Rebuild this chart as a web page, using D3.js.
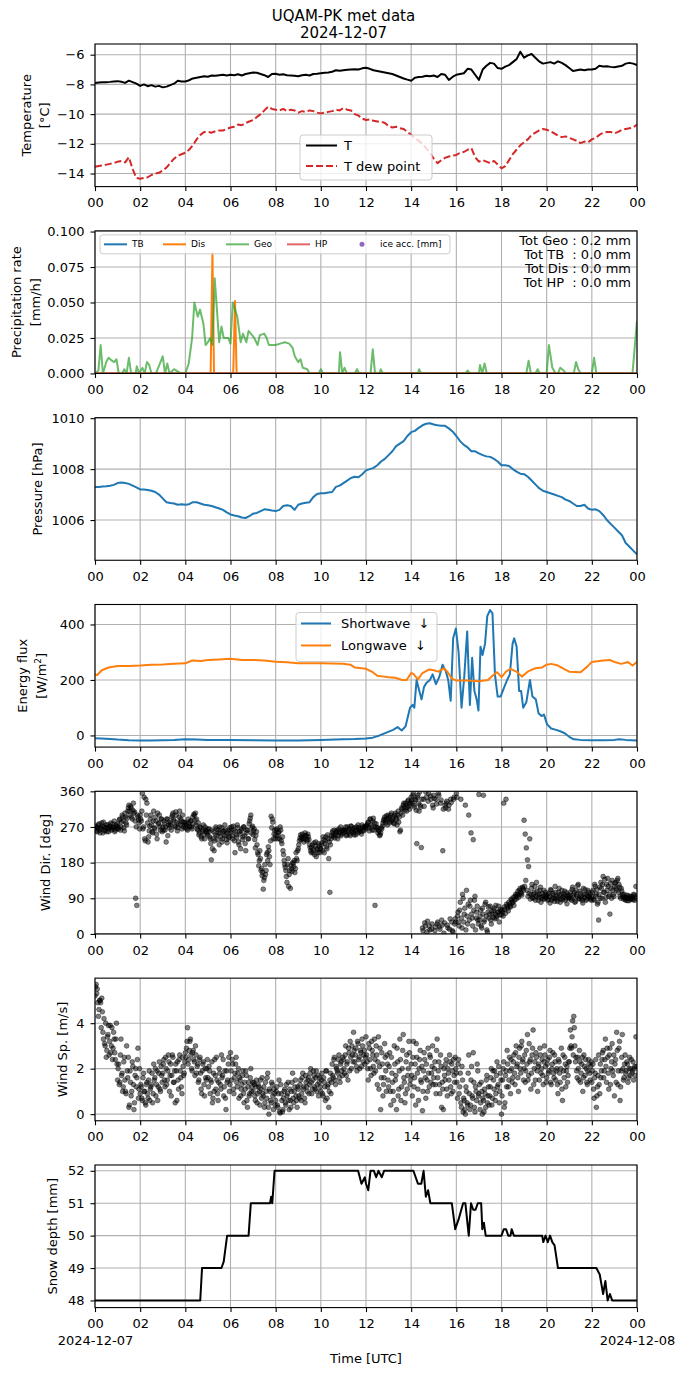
<!DOCTYPE html>
<html>
<head>
<meta charset="utf-8">
<script src="https://cdn.jsdelivr.net/npm/d3@7"></script>
<style>
body { margin: 0; background: #fff; }
text { font-family: "DejaVu Sans", sans-serif; }
</style>
</head>
<body>
<svg id="chart"></svg>
<script>
// ---- data (hours UTC on 2024-12-07) ----

// temperature and dew point, every 10 min from 00 to 24
var tempT = [
    -7.9,-7.88,-7.86,-7.85,-7.83,-7.8, -7.78,-7.82,-7.9,-7.75,-7.85,-7.95,
    -8.1,-8.0,-8.12,-8.05,-8.15,-8.1, -8.2,-8.15,-8.05,-7.95,-7.75,-7.8,
    -7.8,-7.72,-7.6,-7.55,-7.5,-7.45, -7.48,-7.4,-7.42,-7.38,-7.35,-7.4,
    -7.35,-7.38,-7.32,-7.4,-7.3,-7.25, -7.2,-7.22,-7.3,-7.38,-7.5,-7.3,
    -7.28,-7.35,-7.32,-7.38,-7.4,-7.42, -7.45,-7.38,-7.35,-7.4,-7.3,-7.28,
    -7.25,-7.22,-7.2,-7.15,-7.05,-7.08, -7.05,-7.02,-7.0,-6.98,-7.0,-6.92,
    -6.88,-6.95,-7.05,-7.1,-7.15,-7.2, -7.25,-7.3,-7.4,-7.5,-7.6,-7.68,
    -7.75,-7.55,-7.5,-7.48,-7.42,-7.45, -7.4,-7.5,-7.3,-7.35,-7.7,-7.5,
    -7.35,-7.3,-7.25,-6.95,-7.0,-7.35, -7.7,-7.0,-6.75,-6.55,-6.6,-6.9,
    -6.95,-6.8,-6.7,-6.5,-6.3,-5.8, -6.2,-6.05,-5.95,-6.2,-6.45,-6.6,
    -6.55,-6.5,-6.6,-6.45,-6.55,-6.7, -6.9,-7.1,-7.05,-7.0,-7.05,-7.0,
    -7.0,-6.95,-6.75,-6.8,-6.78,-6.82, -6.85,-6.8,-6.75,-6.6,-6.55,-6.6,
    -6.7
];
var tempDew = [
    -13.55,-13.5,-13.45,-13.4,-13.35,-13.3, -13.2,-13.15,-13.25,-12.9,-13.7,-14.3,
    -14.35,-14.3,-14.25,-14.1,-14.0,-13.95, -13.8,-13.6,-13.3,-13.0,-12.8,-12.7,
    -12.6,-12.4,-12.1,-11.7,-11.4,-11.2, -11.2,-11.25,-11.15,-11.1,-11.1,-11.0,
    -10.9,-10.85,-10.7,-10.75,-10.6,-10.5, -10.4,-10.2,-10.0,-9.75,-9.5,-9.65,
    -9.7,-9.75,-9.65,-9.8,-9.7,-9.75, -9.9,-9.8,-9.85,-9.75,-9.8,-9.9,
    -9.95,-9.9,-9.85,-9.8,-9.7,-9.75, -9.6,-9.7,-9.75,-10.0,-10.1,-10.3,
    -10.4,-10.35,-10.45,-10.5,-10.5,-10.6, -10.8,-10.9,-10.85,-10.95,-11.0,-11.2,
    -11.4,-11.6,-11.8,-12.0,-12.3,-12.6, -13.0,-13.3,-13.1,-12.95,-12.85,-12.8,
    -12.75,-12.6,-12.55,-12.4,-12.3,-12.9, -13.2,-13.1,-13.2,-13.3,-13.15,-13.4,
    -13.65,-13.5,-13.1,-12.7,-12.4,-12.1, -11.9,-11.7,-11.4,-11.25,-11.1,-11.0,
    -11.05,-11.15,-11.3,-11.45,-11.55,-11.5, -11.6,-11.7,-11.8,-11.95,-11.85,-11.9,
    -11.7,-11.6,-11.4,-11.25,-11.2,-11.2, -11.3,-11.2,-11.05,-11.0,-10.95,-10.9,
    -10.7
];

// precipitation rate [mm/h]
var geoTime = [0,0.15,0.25,0.35,0.5,0.6,0.75,0.85,0.95,1.05,1.2,1.3,1.4,1.5,1.6,1.8,1.85,1.95,2.1,2.2,
    2.3,2.4,2.5,2.7,3.0,3.1,3.2,3.3,3.5,3.6,3.8,4.0,4.15,4.3,4.4,4.55,4.65,4.8,4.9,5.0,
    5.1,5.2,5.3,5.4,5.5,5.6,5.7,5.9,6.0,6.1,6.3,6.45,6.55,6.7,6.8,6.9,7.05,7.2,7.3,7.5,
    7.6,7.7,7.85,8.0,8.2,8.4,8.6,8.75,8.85,9.0,9.1,9.2,9.4,9.5,9.9,10.0,10.1,10.8,10.85,10.95,
    11.05,11.15,11.5,11.6,11.7,12.2,12.3,12.4,12.6,12.65,12.75,14.3,14.35,14.45,16.4,16.5,16.6,17.0,17.05,17.15,
    17.25,17.35,19.1,19.2,19.3,19.5,19.6,19.7,20.0,20.1,20.25,20.4,20.5,20.6,20.75,20.85,21.2,21.3,21.4,21.5,
    22.0,22.1,22.2,23.8,24];
var geoRate = [0,0.002,0.02,0,0.008,0.011,0.009,0.008,0.01,0,0,0.003,0,0.011,0,0,0.005,0,0.004,0,
    0.008,0.006,0,0,0.012,0,0.007,0,0.003,0.002,0,0,0.007,0.025,0.05,0.04,0.045,0.035,0.02,0.022,
    0.025,0.02,0.067,0.045,0.022,0.033,0.025,0.025,0.021,0.05,0.04,0.022,0.028,0.022,0.03,0.028,0.025,0.02,0.027,0.028,
    0.025,0.02,0.02,0.02,0.021,0.022,0.021,0.018,0.012,0.008,0.01,0.004,0.003,0,0,0.003,0,0,0.015,0,
    0.004,0,0,0.003,0,0,0.017,0,0,0.003,0,0,0.003,0,0,0.002,0,0,0.006,0,
    0.007,0,0,0.009,0,0,0.003,0,0,0.02,0.004,0,0,0.004,0.002,0,0,0.008,0.003,0,
    0,0.011,0,0,0.037];
var disTime = [0,5.12,5.2,5.27,6.12,6.2,6.27,24];
var disRate = [0,0,0.085,0,0,0.051,0,0];
var tbTime = [0,24];
var tbRate = [0,0];
var hpTime = [0,24];
var hpRate = [0,0];
var iceAcc = [];
var precipTotals = ["Tot Geo : 0.2 mm", "Tot TB  : 0.0 mm", "Tot Dis : 0.0 mm", "Tot HP  : 0.0 mm"];

// pressure [hPa], every 10 min
var pressure = [
    1007.3,1007.3,1007.32,1007.33,1007.35,1007.38, 1007.45,1007.47,1007.45,1007.42,1007.35,1007.28,
    1007.2,1007.2,1007.18,1007.15,1007.1,1007.0, 1006.85,1006.7,1006.67,1006.65,1006.6,1006.62,
    1006.6,1006.62,1006.7,1006.7,1006.65,1006.6, 1006.58,1006.55,1006.5,1006.45,1006.4,1006.3,
    1006.22,1006.18,1006.15,1006.1,1006.08,1006.15, 1006.25,1006.28,1006.35,1006.42,1006.4,1006.37,
    1006.35,1006.4,1006.55,1006.58,1006.55,1006.4, 1006.6,1006.65,1006.68,1006.7,1006.9,1007.02,
    1007.05,1007.05,1007.08,1007.1,1007.3,1007.35, 1007.45,1007.55,1007.65,1007.7,1007.68,1007.8,
    1007.95,1008.0,1008.05,1008.15,1008.3,1008.4, 1008.55,1008.7,1008.9,1009.0,1009.1,1009.3,
    1009.45,1009.5,1009.62,1009.72,1009.78,1009.8, 1009.75,1009.72,1009.7,1009.7,1009.6,1009.48,
    1009.3,1009.1,1008.95,1008.85,1008.7,1008.7, 1008.62,1008.55,1008.5,1008.48,1008.4,1008.3,
    1008.15,1008.15,1008.12,1008.0,1007.9,1007.82, 1007.8,1007.7,1007.55,1007.4,1007.25,1007.15,
    1007.1,1007.05,1007.0,1006.95,1006.9,1006.8, 1006.75,1006.65,1006.55,1006.55,1006.6,1006.45,
    1006.4,1006.42,1006.35,1006.2,1006.0,1005.85, 1005.7,1005.55,1005.4,1005.1,1004.95,1004.8,
    1004.65
];

// radiation [W/m2]
var swTime = [0,0.5,1,1.5,2,2.5,3,3.5,4,4.5,5,6,7,8,9,9.5,10,11,11.5,12,12.3,12.6,12.9,13.2,13.4,13.58,13.75,
    13.95,14.06,14.14,14.24,14.33,14.46,14.57,14.68,14.83,14.95,15.1,15.24,15.39,15.54,15.64,15.75,15.86,15.98,
    16.1,16.23,16.35,16.48,16.6,16.7,16.8,16.9,16.98,17.07,17.16,17.27,17.37,17.49,17.6,17.71,17.83,17.96,
    18.1,18.25,18.37,18.49,18.56,18.67,18.78,18.87,18.96,19.1,19.26,19.37,19.52,19.64,19.77,19.88,20.02,20.2,
    20.42,20.6,20.8,21.0,21.2,21.5,22,22.5,23,23.2,23.5,24];
var swFlux = [-10,-12,-15,-17,-18,-18,-17,-16,-14,-15,-16,-16,-17,-18,-18,-17,-16,-14,-13,-11,-8,0,10,20,30,18,32,
    100,110,100,200,170,130,175,190,200,220,185,210,255,230,200,125,350,385,
    300,100,210,375,110,280,160,130,90,320,290,330,430,452,440,220,140,140,
    170,200,220,330,350,320,160,160,100,120,200,140,130,80,70,75,40,25,
    20,15,8,-5,-14,-16,-17,-17,-16,-14,-16,-18];
var lwTime = [0,0.1,0.3,0.6,1,1.5,2,2.5,3,3.5,4,4.3,4.7,5,5.5,6,6.5,7,7.5,8,8.5,9,10,11,11.3,11.5,12,12.3,12.5,
    12.8,13,13.3,13.6,13.8,14.0,14.1,14.3,14.5,14.8,15.0,15.2,15.45,15.6,15.8,16,16.5,17,17.4,17.6,17.8,18.0,
    18.2,18.4,18.7,18.9,19.2,19.5,19.8,20.0,20.2,20.5,20.8,21,21.5,21.8,22,22.5,22.8,23,23.3,23.6,23.8,24];
var lwFlux = [220,218,235,245,250,250,252,255,256,258,260,270,268,272,274,276,272,272,270,266,264,260,260,258,255,245,240,228,215,
    212,210,208,200,200,225,222,202,225,238,235,230,242,230,205,198,198,195,200,215,228,210,
    230,240,228,212,232,242,245,255,258,252,238,230,228,248,265,270,272,265,258,265,252,265];

// wind direction [deg], every 3 min (20 per hour), and the in-between samples
var windDir = [
    265,270,258,275,262,268,280,255,270,262,275,268,258,272,280,265,270,285,262,275,
    278,265,290,270,300,285,260,295,275,310,325,300,318,290,330,308,90,72,295,280,
    300,285,355,270,240,340,330,232,260,290,275,255,310,265,285,240,278,300,262,290,
    270,285,262,232,290,275,268,280,295,305,285,270,300,260,278,310,290,265,282,275,
    268,275,262,280,270,285,265,278,300,305,290,262,250,270,245,258,275,240,262,255,
    250,265,240,187,215,258,235,270,248,262,225,255,268,240,260,275,250,230,262,245,
    255,270,240,262,205,250,275,232,258,215,265,245,270,228,255,262,240,285,300,268,
    250,265,217,258,205,172,210,160,147,113,142,150,200,185,210,175,297,290,240,262,
    250,265,240,258,270,235,245,200,175,160,130,190,150,115,165,180,170,155,205,185,
    215,235,250,245,240,232,255,248,238,245,225,210,218,205,230,222,195,212,228,205,
    215,230,245,205,235,220,250,190,105,240,255,245,262,250,258,240,265,255,248,260,
    255,262,270,250,258,265,248,272,260,255,268,250,262,275,258,265,252,270,260,268,
    265,275,282,260,290,270,285,262,72,278,268,262,248,255,265,280,290,285,298,275,
    290,280,300,285,295,278,305,288,300,282,258,305,315,325,318,330,310,335,322,328,
    345,330,355,320,338,228,350,310,325,218,15,340,28,358,5,335,20,348,12,325,
    350,8,340,25,355,18,330,35,210,2,325,330,22,315,12,340,30,5,345,38,
    355,45,30,60,340,15,90,50,325,110,25,300,70,255,40,238,85,10,55,35,
    352,45,20,65,350,35,80,10,55,40,70,25,50,60,38,72,45,55,30,62,
    48,55,330,62,340,70,58,75,68,85,80,72,95,88,100,92,110,105,98,115,
    287,252,217,187,170,240,100,125,90,105,85,130,98,92,110,80,102,95,88,105,
    95,85,102,78,110,90,98,82,105,88,92,115,80,100,86,95,108,90,76,98,
    92,105,85,118,98,80,110,95,125,88,102,90,78,100,112,85,96,105,92,88,
    95,110,85,120,100,75,35,118,130,90,145,105,80,125,140,95,50,115,135,100,
    120,130,110,140,125,95,115,100,88,92,85,98,90,84,95,88,92,100,85,120
];
var windDirMid = [
    272,260,268,278,255,265,272,282,260,268,258,276,266,270,262,278,268,258,272,266,
    270,288,262,282,295,268,305,280,292,318,310,322,295,312,305,285,270,300,288,265,
    290,310,265,345,235,300,280,245,272,300,258,285,268,295,252,305,280,270,290,258,
    262,278,270,290,248,282,275,262,300,290,272,308,282,268,295,275,285,300,270,282,
    280,265,290,272,285,270,295,302,288,275,265,280,255,268,240,262,250,270,258,265,
    258,245,228,262,240,210,250,265,238,255,270,245,232,258,248,262,238,255,242,268,
    262,248,272,235,258,244,268,225,252,260,238,270,248,210,262,240,278,292,255,272,
    260,238,248,225,200,185,190,165,155,135,175,160,205,220,195,235,268,282,252,240,
    262,248,255,240,262,228,210,185,168,145,175,120,160,172,158,178,185,165,190,210,
    225,242,238,252,245,240,248,235,252,238,218,205,225,212,200,232,215,205,222,215,
    225,210,238,228,245,215,240,232,225,248,260,250,242,255,262,248,258,270,252,262,
    262,258,248,270,262,252,272,258,265,250,262,270,255,268,262,258,275,262,270,272,
    272,280,268,290,275,262,292,280,270,268,255,260,250,268,272,286,295,280,290,300,
    295,285,305,290,280,300,292,275,310,295,262,318,300,330,312,325,320,338,315,332,
    338,350,325,340,312,345,330,358,320,340,8,322,20,345,32,355,10,340,25,318,
    342,18,328,30,350,12,338,22,315,28,318,335,15,325,38,332,8,340,25,30,
    345,55,20,80,40,100,30,65,10,45,75,35,85,50,20,60,95,40,70,25,
    35,60,15,50,30,75,45,5,68,50,35,58,42,65,50,40,55,70,48,58,
    60,45,68,52,75,65,80,70,88,78,92,85,100,95,108,98,115,102,118,110,
    120,135,110,95,102,88,115,92,100,120,95,108,85,100,118,92,88,110,98,92,
    100,88,95,112,85,102,90,120,95,82,105,98,88,110,92,100,85,104,95,90,
    98,88,112,92,105,82,100,122,90,108,95,85,115,92,100,88,110,95,100,85,
    105,88,125,95,112,80,100,90,115,125,105,138,92,110,120,100,128,90,110,95,
    128,115,135,105,118,90,108,95,100,88,92,84,96,90,88,94,86,98,90,95
];

// wind speed [m/s], every 3 min (20 per hour), and the in-between samples
var windSpeed = [
    5.2,5.7,5.5,4.3,5.0,4.9,5.1,3.6,4.2,3.0,2.5,3.4,3.9,3.2,2.7,3.8,2.9,3.3,2.4,4.0,
    1.5,2.2,1.4,3.3,1.8,1.2,2.5,1.0,3.0,1.6,0.3,1.9,0.8,2.3,1.3,0.5,2.0,1.6,2.9,1.1,
    0.9,1.2,0.6,1.8,1.0,0.4,1.4,0.7,1.9,1.1,1.3,0.5,2.2,1.6,0.8,1.9,1.2,2.3,1.0,1.7,
    1.8,2.4,1.2,2.0,1.5,2.6,1.0,2.2,1.7,2.5,1.4,0.5,1.9,2.3,1.1,2.6,1.6,0.9,2.1,1.8,
    2.7,2.9,3.8,2.4,3.2,2.6,1.9,2.8,2.3,3.0,1.8,2.2,1.5,2.5,1.1,1.9,2.3,0.8,1.6,2.0,
    1.6,2.1,0.9,1.4,0.5,1.8,2.4,1.1,1.5,0.6,2.0,1.3,2.6,1.7,0.8,1.9,0.2,1.4,2.2,1.0,
    2.7,1.5,2.2,0.9,1.8,2.5,1.2,2.0,1.6,0.8,1.3,1.9,0.5,1.1,1.7,0.3,1.4,0.9,2.0,1.2,
    1.0,1.3,0.6,1.5,0.9,1.2,0.4,1.1,1.6,0.8,0.3,1.4,0.7,1.8,0.0,1.0,0.5,1.3,0.2,0.9,
    0.6,1.2,0.3,1.5,0.05,0.9,0.1,0.7,1.1,0.4,0.8,1.4,0.2,0.6,1.0,1.8,0.5,1.2,0.8,0.3,
    1.1,0.7,1.5,0.9,1.8,1.2,0.5,1.4,1.0,1.6,1.3,2.0,0.9,1.5,1.7,1.1,1.9,1.3,0.8,1.6,
    1.0,1.8,0.8,1.4,0.6,1.9,1.2,0.3,1.5,0.9,2.2,1.6,2.5,1.3,2.0,1.8,2.6,1.4,2.3,1.7,
    2.4,1.8,3.0,2.2,1.5,2.7,3.2,2.0,2.6,3.6,2.3,2.9,1.9,3.1,2.5,2.8,2.1,3.0,2.6,2.2,
    3.4,2.3,1.5,2.9,2.0,3.2,2.6,1.8,2.4,3.0,1.3,3.4,2.1,0.2,2.7,0.8,1.6,2.5,1.0,2.2,
    1.2,2.7,0.4,1.8,1.0,3.0,1.5,0.2,2.3,1.1,3.3,0.6,2.0,3.5,1.4,0.9,2.6,1.7,3.2,1.3,
    2.2,0.8,3.2,1.6,0.4,2.5,1.1,2.0,2.8,1.4,0.15,1.9,2.4,0.7,1.5,2.9,1.2,2.5,1.8,3.0,
    1.6,2.3,0.9,3.3,1.9,1.3,2.6,0.3,1.1,2.0,1.5,2.4,0.8,1.8,2.6,1.2,2.2,1.0,1.7,2.5,
    1.8,0.7,2.4,1.2,0.5,2.1,0.1,0.6,0.0,1.0,0.4,2.6,0.2,1.5,0.8,2.7,0.3,1.2,0.6,1.9,
    0.9,0.2,1.4,0.0,0.6,1.1,0.3,1.7,0.8,0.4,1.2,2.0,0.7,1.5,1.9,0.9,2.3,1.3,0.5,1.8,
    0.0,1.5,2.3,0.5,1.9,2.8,1.2,2.5,0.9,2.0,1.6,2.6,1.3,3.0,2.2,1.0,2.9,1.8,3.2,2.4,
    2.0,1.4,2.8,3.5,1.7,2.3,1.1,2.6,3.7,2.0,1.5,2.5,1.0,2.2,2.9,1.8,2.4,1.3,3.0,2.1,
    1.6,2.4,1.9,2.8,1.3,2.2,1.8,2.6,1.5,2.0,0.9,2.3,1.4,2.9,0.6,1.9,2.5,1.2,2.1,1.7,
    2.3,3.7,2.9,4.1,4.3,3.0,2.5,1.6,2.0,2.8,1.4,2.2,1.0,2.6,1.7,2.0,1.3,2.4,1.8,2.1,
    1.4,2.2,0.7,1.8,0.3,1.2,2.6,0.9,1.6,2.4,2.8,1.9,3.3,1.4,2.5,1.1,2.9,2.0,3.1,1.7,
    0.8,2.4,3.6,1.3,2.9,0.6,1.9,3.5,1.5,2.2,1.8,2.3,1.4,2.0,1.7,2.4,1.9,1.5,2.1,3.4
];
var windSpeedMid = [
    5.6,5.3,4.9,4.6,5.0,3.8,4.5,3.3,3.1,4.0,2.8,3.5,2.6,3.9,3.0,2.4,3.6,2.7,3.3,2.2,
    2.0,1.3,2.6,1.7,1.0,2.3,1.5,0.9,1.9,2.5,0.4,1.4,1.0,2.1,0.2,1.7,1.2,2.4,0.7,2.0,
    1.3,0.7,1.6,1.0,0.5,1.3,0.9,1.5,0.6,1.2,1.8,0.9,1.5,2.0,1.3,0.6,1.8,1.1,2.1,1.4,
    2.2,1.5,2.5,1.3,1.9,2.3,1.7,0.8,2.6,1.4,1.9,2.2,0.6,1.5,2.4,1.9,1.2,2.5,1.7,2.3,
    2.5,3.2,2.2,2.8,3.3,2.0,2.7,2.4,1.7,2.6,2.1,1.4,2.4,1.8,0.9,2.2,1.3,2.0,1.5,2.4,
    1.2,1.9,1.5,2.3,0.7,1.0,1.7,2.5,0.9,1.4,1.8,1.1,1.6,2.4,1.2,0.7,1.9,1.5,2.5,1.3,
    1.9,2.4,1.1,1.6,2.2,1.4,1.8,0.7,1.5,1.1,1.7,0.9,1.4,1.9,0.6,1.2,0.8,1.6,1.0,1.4,
    1.4,0.8,1.2,0.5,1.3,1.0,1.5,0.7,0.9,1.2,0.5,1.0,1.6,0.3,1.1,0.6,1.4,0.8,1.1,0.4,
    1.0,0.4,0.9,0.1,1.3,0.6,0.2,1.0,0.5,1.3,0.9,0.6,1.1,0.3,1.4,0.7,1.0,1.5,0.6,1.2,
    0.8,1.3,0.6,1.6,1.1,0.7,1.7,1.2,1.5,0.9,1.8,1.4,1.1,1.9,1.2,1.6,1.0,1.7,1.4,1.2,
    1.5,0.9,1.6,1.2,1.9,0.7,1.3,1.0,1.8,1.4,1.7,2.4,1.5,2.1,1.9,2.4,1.6,2.2,1.9,2.5,
    2.0,2.6,1.7,2.3,2.9,1.9,2.5,3.0,2.3,2.8,2.6,2.1,3.2,2.4,2.0,2.7,3.3,2.3,2.8,2.5,
    2.6,2.0,3.1,2.4,1.7,2.8,2.1,3.3,1.9,2.6,2.3,1.1,2.9,1.6,2.2,1.3,3.1,1.9,2.6,1.5,
    2.1,1.0,2.5,1.4,0.6,2.2,1.7,2.9,0.8,1.9,2.4,1.2,2.8,1.6,0.5,2.3,1.1,2.0,2.7,1.5,
    1.7,2.5,1.2,2.2,3.1,1.8,0.6,2.4,1.5,2.1,1.0,2.7,1.6,2.2,1.0,1.8,2.6,1.4,2.1,1.3,
    2.0,1.3,2.8,1.6,2.3,0.9,2.1,1.4,0.2,1.7,2.2,1.1,2.0,1.5,2.3,0.9,1.9,2.4,1.4,2.0,
    1.4,2.2,0.9,1.8,0.3,1.5,0.7,0.2,1.2,0.5,1.8,0.9,0.4,2.1,0.7,1.4,0.1,1.0,2.2,0.8,
    1.3,0.5,1.0,0.7,0.1,0.9,1.5,0.5,1.2,0.8,1.6,0.4,1.9,1.1,0.6,1.7,1.2,2.1,1.0,1.5,
    0.8,2.0,0.3,1.7,1.2,2.2,1.5,1.9,2.4,1.4,2.3,1.8,2.7,2.1,1.6,2.5,2.0,3.0,2.3,1.5,
    2.6,1.9,2.2,1.5,3.1,2.4,1.8,2.9,1.3,2.3,2.7,1.9,2.1,1.5,2.6,2.0,1.7,2.3,2.6,1.4,
    2.2,1.8,2.5,1.4,2.0,2.7,1.6,2.3,1.9,1.3,2.4,1.8,2.0,1.1,2.6,1.6,2.2,1.9,1.4,2.3,
    2.9,3.0,3.4,2.6,3.8,2.3,1.9,2.5,1.5,2.3,1.8,2.5,1.6,2.1,2.4,1.4,1.9,2.2,1.5,2.3,
    1.9,1.1,1.6,2.4,0.8,1.7,1.3,2.2,1.9,2.7,1.6,2.4,2.1,2.9,1.8,2.6,1.3,2.3,1.9,2.6,
    2.2,1.4,2.8,1.9,3.2,1.2,2.5,2.0,1.6,2.6,1.9,2.2,1.6,2.5,2.0,1.8,2.3,2.0,1.7,2.1
];

// snow depth [mm]
var snowTime = [0,4.66,4.74,5.6,5.7,5.85,6.8,6.9,7.75,7.8,7.85,7.95,11.65,11.8,11.95,12.0,12.1,12.2,12.35,12.45,
    12.55,12.7,12.8,14.1,14.3,14.45,14.55,14.65,14.75,14.85,15.8,15.95,16.1,16.3,16.4,16.55,16.65,16.75,16.85,16.95,
    17.1,17.15,17.22,17.3,18.0,18.1,18.2,18.3,18.4,18.45,18.55,19.8,19.85,19.95,20.05,20.15,20.25,20.35,20.5,22.2,
    22.35,22.5,22.6,22.7,22.8,22.9,24];
var snowDepth = [48,48,49,49,49.2,50,50,51,51,51.2,51,52,52,51.6,51.8,51.6,51.4,52,52,51.8,
    52,51.8,52,52,51.6,51.6,52,51.2,51.4,51,51,50.2,50.5,51,51,50,51,50.8,50.8,51,
    51,50.2,50.4,50,50,50.2,50.2,50,50,50.2,50,50,49.8,50,49.8,50,49.8,49.7,49,49,
    48.8,48.2,48.6,48,48.2,48,48];

// axis ticks
var hourTicks = d3.range(0, 25, 2);
var tempTicks = [-14, -12, -10, -8, -6];
var precipTicks = [0, 0.025, 0.05, 0.075, 0.1];
var pressTicks = [1006, 1008, 1010];
var fluxTicks = [0, 200, 400];
var dirTicks = [0, 90, 180, 270, 360];
var speedTicks = [0, 2, 4];
var snowTicks = [48, 49, 50, 51, 52];

// ---- layout ----
var W = 687, H = 1377;
var left = 95, plotW = 542;
var firstTop = 44, panelStep = 186.83, panelH = 142.6;
var fs = 13;
var gridColor = "#b0b0b0";

var svg = d3.select("#chart").attr("width", W).attr("height", H);
svg.append("rect").attr("width", W).attr("height", H).attr("fill", "#fff");

var xScale = d3.scaleLinear().domain([0, 24]).range([0, plotW]);
var tenMin = function (d, i) { return i / 6; };
var threeMin = function (i) { return i * 0.05; };

function minusFmt(d) { return d < 0 ? "\u2212" + Math.abs(d) : String(d); }

function makePanel(idx, yDomain, yTicks, yFormat) {
    var top = firstTop + idx * panelStep;
    var g = svg.append("g").attr("transform", "translate(" + left + "," + top + ")");
    var yScale = d3.scaleLinear().domain(yDomain).range([panelH, 0]);

    // grid lines
    var grid = g.append("g");
    grid.selectAll(".vgrid").data(hourTicks).enter().append("line")
        .attr("x1", function (d) { return xScale(d); })
        .attr("x2", function (d) { return xScale(d); })
        .attr("y1", 0).attr("y2", panelH)
        .attr("stroke", gridColor).attr("stroke-width", 1.1);
    grid.selectAll(".hgrid").data(yTicks).enter().append("line")
        .attr("x1", 0).attr("x2", plotW)
        .attr("y1", function (d) { return yScale(d); })
        .attr("y2", function (d) { return yScale(d); })
        .attr("stroke", gridColor).attr("stroke-width", 1.1);

    // clipped area for the data
    g.append("clipPath").attr("id", "clip" + idx)
        .append("rect").attr("width", plotW).attr("height", panelH);
    var plot = g.append("g").attr("clip-path", "url(#clip" + idx + ")");

    // axes
    var xAxis = g.append("g").attr("transform", "translate(0," + panelH + ")")
        .call(d3.axisBottom(xScale).tickValues(hourTicks).tickSize(4.5).tickPadding(7)
            .tickFormat(function (d) { return d3.format("02")(d % 24); }));
    var yAxis = g.append("g")
        .call(d3.axisLeft(yScale).tickValues(yTicks).tickSize(4.5).tickPadding(6).tickFormat(yFormat));
    [xAxis, yAxis].forEach(function (a) {
        a.attr("font-size", fs).attr("font-family", "DejaVu Sans");
        a.select(".domain").remove();
        a.selectAll("line").attr("stroke", "#000").attr("stroke-width", 1.1);
        a.selectAll("text").attr("fill", "#000");
    });

    // frame (raised over the data at the end)
    g.append("rect").attr("class", "frame")
        .attr("width", plotW).attr("height", panelH)
        .attr("fill", "none").attr("stroke", "#000").attr("stroke-width", 1.1);

    return { g: g, plot: plot, y: yScale, top: top, xAxis: xAxis };
}

function yLabel(p, lines, xs) {
    lines.forEach(function (t, k) {
        p.g.append("text")
            .attr("transform", "translate(" + (xs[k] - left) + "," + (panelH / 2) + ") rotate(-90)")
            .attr("text-anchor", "middle").attr("dy", "0.35em")
            .attr("font-size", fs).text(t);
    });
}

function drawLine(p, xs, ys, color, width, extra) {
    var line = d3.line()
        .x(function (d, i) { return xScale(xs(d, i)); })
        .y(function (d) { return p.y(d); });
    var path = p.plot.append("path").datum(ys)
        .attr("d", line)
        .attr("fill", "none").attr("stroke", color).attr("stroke-width", width)
        .attr("stroke-linejoin", "round");
    if (extra) extra(path);
    return path;
}

function drawPairs(p, ts, vs, color, width, opacity) {
    var line = d3.line()
        .x(function (d, i) { return xScale(ts[i]); })
        .y(function (d) { return p.y(d); });
    p.plot.append("path").datum(vs)
        .attr("d", line)
        .attr("fill", "none").attr("stroke", color).attr("stroke-width", width)
        .attr("stroke-opacity", opacity || 1).attr("stroke-linejoin", "round");
}

// scatter of 3-min samples; offset shifts the second set half a step
function drawDots(p, values, offset) {
    p.plot.append("g").selectAll("circle").data(values).enter().append("circle")
        .attr("cx", function (d, i) { return xScale(threeMin(i) + offset); })
        .attr("cy", function (d) { return p.y(d); })
        .attr("r", 2.4).attr("fill", "#000").attr("fill-opacity", 0.5)
        .attr("stroke", "#000").attr("stroke-opacity", 0.5).attr("stroke-width", 0.8);
}

function legendBox(p, x, y, w, h) {
    p.g.append("rect").attr("x", x).attr("y", y).attr("width", w).attr("height", h)
        .attr("rx", 3).attr("fill", "#fff").attr("fill-opacity", 0.8)
        .attr("stroke", "#cccccc").attr("stroke-width", 1);
}

// ---- title ----
svg.append("text").attr("x", W / 2).attr("y", 21).attr("text-anchor", "middle")
    .attr("font-size", 15).text("UQAM-PK met data");
svg.append("text").attr("x", W / 2).attr("y", 38).attr("text-anchor", "middle")
    .attr("font-size", 15).text("2024-12-07");

// ---- 1: temperature ----
var p1 = makePanel(0, [-14.88, -5.28], tempTicks, minusFmt);
yLabel(p1, ["Temperature", "[\u00b0C]"], [26, 44]);
drawLine(p1, tenMin, tempT, "#000", 2);
drawLine(p1, tenMin, tempDew, "#d62728", 2, function (s) { s.attr("stroke-dasharray", "7,3"); });
legendBox(p1, 205, 91, 132, 45);
p1.g.append("line").attr("x1", 211).attr("x2", 242).attr("y1", 101.5).attr("y2", 101.5)
    .attr("stroke", "#000").attr("stroke-width", 2);
p1.g.append("text").attr("x", 249).attr("y", 101.5).attr("dy", "0.35em").attr("font-size", fs).text("T");
p1.g.append("line").attr("x1", 211).attr("x2", 242).attr("y1", 122).attr("y2", 122)
    .attr("stroke", "#d62728").attr("stroke-width", 2).attr("stroke-dasharray", "7,3");
p1.g.append("text").attr("x", 249).attr("y", 122).attr("dy", "0.35em").attr("font-size", fs).text("T dew point");

// ---- 2: precipitation ----
var p2 = makePanel(1, [0, 0.1005], precipTicks, d3.format(".3f"));
yLabel(p2, ["Precipitation rate", "[mm/h]"], [16, 35]);
drawPairs(p2, tbTime, tbRate, "#1f77b4", 2);
drawPairs(p2, disTime, disRate, "#ff7f0e", 2);
drawPairs(p2, geoTime, geoRate, "#2ca02c", 2, 0.7);
drawPairs(p2, hpTime, hpRate, "#d62728", 2, 0.7);
p2.plot.selectAll(".ice").data(iceAcc).enter().append("circle")
    .attr("cx", function (d) { return xScale(d[0]); }).attr("cy", function (d) { return p2.y(d[1]); })
    .attr("r", 2.5).attr("fill", "#9467bd");
precipTotals.forEach(function (t, k) {
    p2.g.append("text").attr("x", 536).attr("y", 10 + k * 13.9).attr("dy", "0.35em")
        .attr("text-anchor", "end").attr("font-size", fs).attr("xml:space", "preserve").text(t);
});
legendBox(p2, 5, 4, 350, 19);
var precipLegend = [
    { name: "TB", color: "#1f77b4", op: 1, x: 9 },
    { name: "Dis", color: "#ff7f0e", op: 1, x: 68 },
    { name: "Geo", color: "#2ca02c", op: 0.7, x: 131 },
    { name: "HP", color: "#d62728", op: 0.7, x: 192 }
];
precipLegend.forEach(function (e) {
    p2.g.append("line").attr("x1", e.x).attr("x2", e.x + 23).attr("y1", 13.5).attr("y2", 13.5)
        .attr("stroke", e.color).attr("stroke-opacity", e.op).attr("stroke-width", 2);
    p2.g.append("text").attr("x", e.x + 28).attr("y", 13.5).attr("dy", "0.35em")
        .attr("font-size", 9).text(e.name);
});
p2.g.append("circle").attr("cx", 267).attr("cy", 13.5).attr("r", 2.5).attr("fill", "#9467bd");
p2.g.append("text").attr("x", 285).attr("y", 13.5).attr("dy", "0.35em").attr("font-size", 9).text("ice acc. [mm]");

// ---- 3: pressure ----
var p3 = makePanel(2, [1004.42, 1010.02], pressTicks, function (d) { return d; });
yLabel(p3, ["Pressure [hPa]"], [37]);
drawLine(p3, tenMin, pressure, "#1f77b4", 2);

// ---- 4: radiation ----
var p4 = makePanel(3, [-42, 472], fluxTicks, function (d) { return d; });
yLabel(p4, ["Energy flux"], [22]);
p4.g.append("text")
    .attr("transform", "translate(" + (41 - left) + "," + (panelH / 2) + ") rotate(-90)")
    .attr("text-anchor", "middle").attr("dy", "0.35em").attr("font-size", fs)
    .html("[W/m<tspan dy='-5' font-size='9'>2</tspan><tspan dy='5'>]</tspan>");
drawPairs(p4, swTime, swFlux, "#1f77b4", 2);
drawPairs(p4, lwTime, lwFlux, "#ff7f0e", 2);
legendBox(p4, 201, 8, 141, 49);
p4.g.append("line").attr("x1", 206).attr("x2", 236).attr("y1", 19).attr("y2", 19)
    .attr("stroke", "#1f77b4").attr("stroke-width", 2);
p4.g.append("text").attr("x", 246).attr("y", 19).attr("dy", "0.35em").attr("font-size", fs)
    .attr("xml:space", "preserve").text("Shortwave  \u2193");
p4.g.append("line").attr("x1", 206).attr("x2", 236).attr("y1", 41).attr("y2", 41)
    .attr("stroke", "#ff7f0e").attr("stroke-width", 2);
p4.g.append("text").attr("x", 246).attr("y", 41).attr("dy", "0.35em").attr("font-size", fs)
    .attr("xml:space", "preserve").text("Longwave  \u2193");

// ---- 5: wind direction ----
var p5 = makePanel(4, [0, 360], dirTicks, function (d) { return d; });
yLabel(p5, ["Wind Dir. [deg]"], [45]);
drawDots(p5, windDir, 0);
drawDots(p5, windDirMid, 0.025);

// ---- 6: wind speed ----
var p6 = makePanel(5, [-0.29, 5.98], speedTicks, function (d) { return d; });
yLabel(p6, ["Wind Sp. [m/s]"], [62]);
drawDots(p6, windSpeed, 0);
drawDots(p6, windSpeedMid, 0.025);

// ---- 7: snow depth ----
var p7 = makePanel(6, [47.78, 52.18], snowTicks, function (d) { return d; });
yLabel(p7, ["Snow depth [mm]"], [52]);
drawPairs(p7, snowTime, snowDepth, "#000", 2);
p7.xAxis.selectAll(".tick text").each(function (d, i) {
    if (i === 0 || i === hourTicks.length - 1) {
        d3.select(this).append("tspan").attr("x", 0).attr("dy", "1.3em")
            .text(i === 0 ? "2024-12-07" : "2024-12-08");
    }
});
p7.g.append("text").attr("x", plotW / 2).attr("y", panelH + 55).attr("text-anchor", "middle")
    .attr("font-size", fs).text("Time [UTC]");

svg.selectAll(".frame").raise();
</script>
</body>
</html>
